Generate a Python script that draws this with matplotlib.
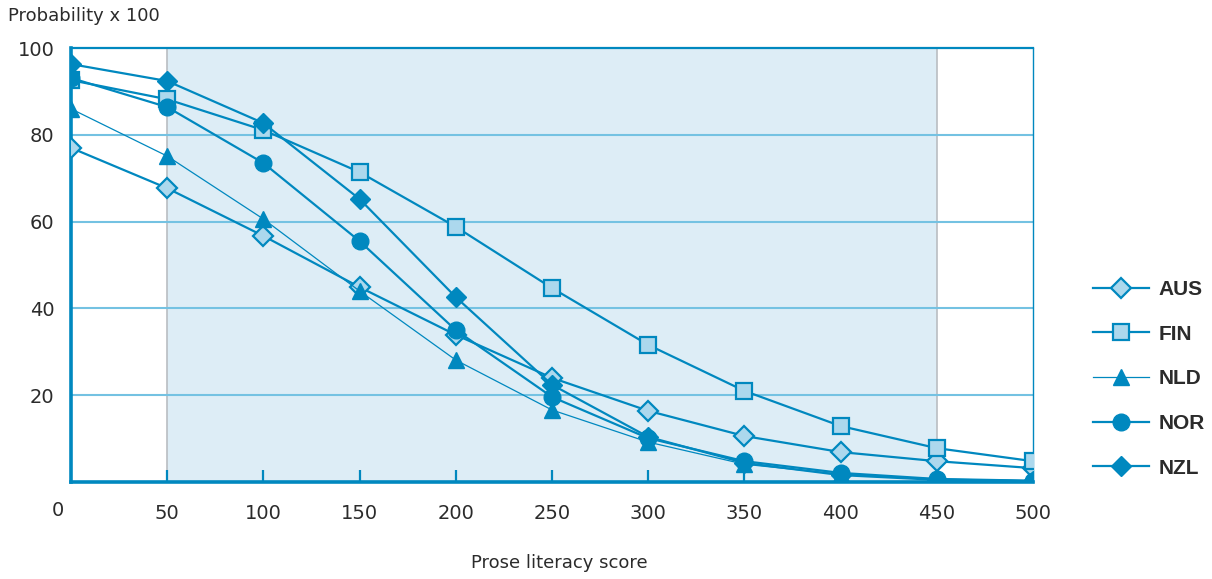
import matplotlib.pyplot as plt

# data
scores = [0, 50, 100, 150, 200, 250, 300, 350, 400, 450, 500]
aus = [77.0, 67.7, 56.7, 44.9, 33.9, 24.0, 16.4, 10.6, 6.9, 4.8, 3.2]
fin = [92.6, 88.2, 81.1, 71.4, 58.8, 44.7, 31.6, 21.0, 12.9, 7.8, 4.8]
nld = [86.0, 75.1, 60.6, 44.0, 28.1, 16.6, 9.2, 4.1, 1.8, 0.7, 0.3]
nor = [93.1, 86.4, 73.5, 55.5, 35.0, 19.6, 10.1, 4.8, 2.1, 0.7, 0.3]
nzl = [96.3, 92.4, 82.7, 65.2, 42.6, 22.4, 10.4, 4.4, 1.6, 0.5, 0.2]
y_ticks = [20, 40, 60, 80, 100]
x_ticks = [50, 100, 150, 200, 250, 300, 350, 400, 450, 500]

blue = '#0088bf'
light = '#acd8ed'
text_col = '#2b2b2b'

fig = plt.figure(figsize=(12.12, 5.79), dpi=100)
ax = fig.add_axes([0.0586, 0.1675, 0.7937, 0.7495])

# shaded band and reference lines
ax.axvspan(50, 450, color='#ddedf6', zorder=0, lw=0)
ax.axvline(50, color='#b9bec2', lw=1.2, zorder=1)
ax.axvline(450, color='#b9bec2', lw=1.2, zorder=1)
for v in [20, 40, 60, 80]:
    ax.axhline(v, color='#74c2e2', lw=1.5, zorder=1)

ax.plot(scores, aus, color=blue, lw=1.6, marker='D', ms=10.5, mfc=light,
        mec=blue, mew=1.6, label='AUS', zorder=3)
ax.plot(scores, fin, color=blue, lw=1.6, marker='s', ms=11.5, mfc=light,
        mec=blue, mew=1.6, label='FIN', zorder=3)
ax.plot(scores, nld, color=blue, lw=0.9, marker='^', ms=12, mfc=blue,
        mec=blue, label='NLD', zorder=3)
ax.plot(scores, nor, color=blue, lw=1.6, marker='o', ms=12, mfc=blue,
        mec=blue, label='NOR', zorder=3)
ax.plot(scores, nzl, color=blue, lw=1.6, marker='D', ms=10.5, mfc=blue,
        mec=blue, label='NZL', zorder=3)

ax.set_xlim(0, 500)
ax.set_ylim(0, 100)

# Axes spines
ax.spines['left'].set_color(blue)
ax.spines['left'].set_linewidth(2.6)
ax.spines['bottom'].set_color(blue)
ax.spines['bottom'].set_linewidth(2.6)
ax.spines['top'].set_color(blue)
ax.spines['top'].set_linewidth(1.6)
ax.spines['right'].set_color(blue)
ax.spines['right'].set_linewidth(1.0)

ax.set_xticks(x_ticks)
ax.set_xticklabels([str(t) for t in x_ticks])
ax.set_yticks(y_ticks)
ax.set_yticklabels([str(t) for t in y_ticks])
ax.tick_params(axis='x', direction='in', length=9, width=1.6, color=blue,
               pad=16, labelsize=14, labelcolor=text_col)
ax.tick_params(axis='y', length=0, pad=12, labelsize=14, labelcolor=text_col)

fig.text(52 / 1212, 1 - 511 / 579, '0', fontsize=14, color=text_col,
         va='center', ha='left')
fig.text(8 / 1212, 1 - 16 / 579, 'Probability x 100', fontsize=13,
         color=text_col, va='center', ha='left')
fig.text(559 / 1212, 1 - 563 / 579, 'Prose literacy score', fontsize=13,
         color=text_col, va='center', ha='center')

leg = ax.legend(loc='upper left', bbox_to_anchor=(1093 / 1212, 1 - 280 / 579),
                bbox_transform=fig.transFigure, frameon=False, borderpad=0,
                borderaxespad=0, handlelength=2.7, handletextpad=0.45,
                labelspacing=1.23,
                prop={'family': ['Liberation Sans', 'DejaVu Sans'],
                      'weight': 'bold', 'size': 15})
for t in leg.get_texts():
    t.set_color(text_col)

fig.savefig('out.png', dpi=100)
